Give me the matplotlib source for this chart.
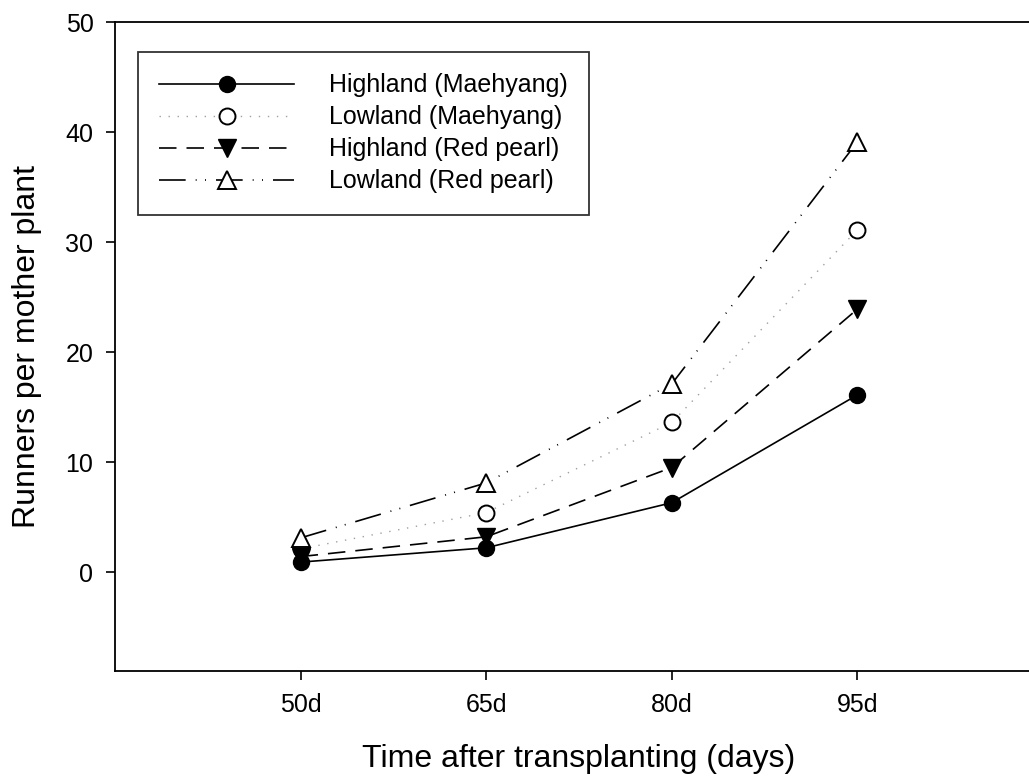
import numpy as np
import matplotlib
matplotlib.use("Agg")
import matplotlib.pyplot as plt

plt.rcParams['font.family'] = ['Liberation Sans', 'DejaVu Sans']

# data
days = ['50d', '65d', '80d', '95d']
highland_maehyang = [0.9, 2.2, 6.3, 16.1]
lowland_maehyang = [2.1, 5.4, 13.6, 31.1]
highland_redpearl = [1.4, 3.2, 9.5, 23.9]
lowland_redpearl = [3.1, 8.1, 17.1, 39.1]
series_labels = ['Highland (Maehyang)', 'Lowland (Maehyang)',
                 'Highland (Red pearl)', 'Lowland (Red pearl)']

fig = plt.figure(figsize=(10.29, 7.78), dpi=100)
ax = fig.add_axes([115/1029, 1 - 671/778, 928/1029, (671 - 22)/778])

x = np.arange(len(days))
lw = 1.2

ax.plot(x, highland_maehyang, color='black', lw=lw, ls='-',
        marker='o', ms=11.5, mfc='black', mec='black',
        label=series_labels[0], zorder=3)
ax.plot(x, lowland_maehyang, color='#a0a0a0', lw=1.0, ls=(0, (1, 5.5)),
        marker='o', ms=11.5, mfc='white', mec='black', mew=1.4,
        label=series_labels[1], zorder=3)
ax.plot(x, highland_redpearl, color='black', lw=lw, ls=(0, (10.5, 6)),
        marker='v', ms=12.5, mfc='black', mec='black',
        label=series_labels[2], zorder=3)
ax.plot(x, lowland_redpearl, color='black', lw=lw,
        ls=(0, (16, 6, 0.6, 5, 0.6, 6)),
        marker='^', ms=12.5, mfc='white', mec='black', mew=1.4,
        label=series_labels[3], zorder=3)

ax.set_xlim(-1, 4)
ax.set_ylim(-9, 50)
ax.set_xticks(x)
ax.set_xticklabels(days)
ax.set_yticks([0, 10, 20, 30, 40, 50])

ax.spines['right'].set_visible(False)
for s in ['left', 'bottom', 'top']:
    ax.spines[s].set_linewidth(1.3)
ax.tick_params(direction='out', length=6.5, width=1.2, labelsize=18,
               top=False, right=False)
ax.tick_params(axis='x', pad=9)
ax.tick_params(axis='y', pad=9)

ax.set_xlabel('Time after transplanting (days)', fontsize=23, labelpad=20)
ax.set_ylabel('Runners per mother plant', fontsize=23, labelpad=17)

leg = ax.legend(loc='upper left', bbox_to_anchor=(23/928, 1 - 30/649),
                fontsize=18, frameon=True, fancybox=False, edgecolor='black',
                handlelength=5.4, handletextpad=1.4, labelspacing=0.32,
                borderpad=0.85, borderaxespad=0)
leg.get_frame().set_linewidth(1.3)

fig.savefig('out.png', dpi=100)
